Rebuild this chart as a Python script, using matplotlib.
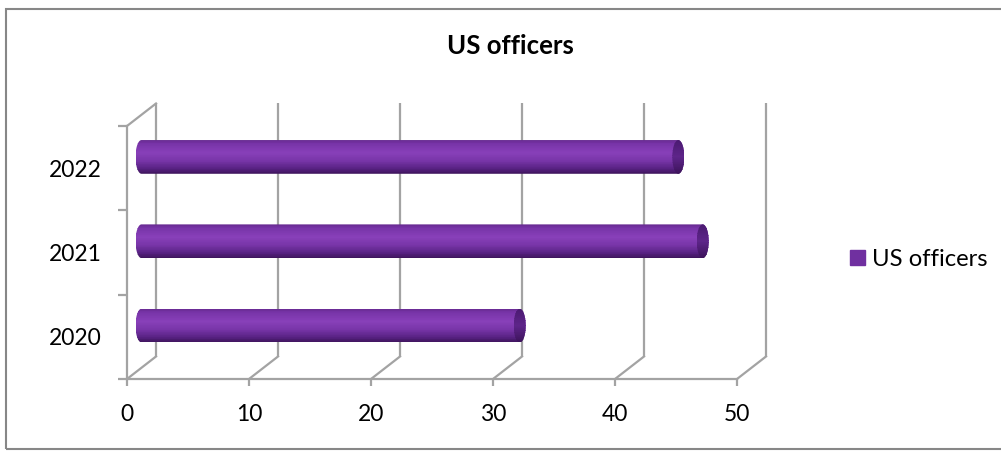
import numpy as np
import matplotlib
matplotlib.use("Agg")
import matplotlib.pyplot as plt
from matplotlib.patches import Rectangle, Ellipse, PathPatch
from matplotlib.path import Path
from matplotlib.lines import Line2D
from matplotlib.colors import LinearSegmentedColormap

# ---------------- data ----------------
categories = ["2020", "2021", "2022"]
values = [31, 46, 44]
x_ticks = [0, 10, 20, 30, 40, 50]
series_name = "US officers"
title = "US officers"

# ---------------- style ----------------
plt.rcParams['font.family'] = ['Lato', 'DejaVu Sans']
GRID = '#a3a3a3'
LW = 1.6
BAR = '#7030a0'
shade = LinearSegmentedColormap.from_list('cyl', [
    (0.00, '#66298f'), (0.12, '#7834a8'), (0.38, '#8840b9'),
    (0.62, '#7835a8'), (0.85, '#582283'), (1.00, '#3e145c')])
face_shade = LinearSegmentedColormap.from_list('face', [
    (0.0, '#4a1a70'), (0.5, '#5e258a'), (1.0, '#3c135a')])

W_PX, H_PX, DPI = 1001, 451, 100
fig = plt.figure(figsize=(W_PX / DPI, H_PX / DPI), dpi=DPI)

# front plane of the 3-D box
ax_l, ax_r, ax_t, ax_b = 127, 737, 126, 379
ax = fig.add_axes([ax_l / W_PX, (H_PX - ax_b) / H_PX,
                   (ax_r - ax_l) / W_PX, (ax_b - ax_t) / H_PX])
xmax = x_ticks[-1]
ax.set_xlim(0, xmax)
ax.set_ylim(-0.5, len(categories) - 0.5)
ax.patch.set_visible(False)

ppu_x = (ax_r - ax_l) / xmax
ppu_y = (ax_b - ax_t) / len(categories)
DX = 29 / ppu_x          # depth offset in data units
DY = 22.5 / ppu_y

for s in ['top', 'right']:
    ax.spines[s].set_visible(False)
for s in ['left', 'bottom']:
    ax.spines[s].set_color(GRID)
    ax.spines[s].set_linewidth(LW)
    ax.spines[s].set_zorder(1)

ax.set_xticks(x_ticks)
ax.set_xticklabels([str(t) for t in x_ticks])
ax.tick_params(axis='x', length=5, width=LW, color=GRID, pad=13,
               labelsize=16.5, labelcolor='black')
ax.set_yticks(np.arange(len(categories) + 1) - 0.5)
ax.set_yticklabels([''] * (len(categories) + 1))
ax.tick_params(axis='y', which='major', length=6.5, width=LW, color=GRID)
ax.set_yticks(np.arange(len(categories)), minor=True)
ax.set_yticklabels(categories, minor=True)
ax.tick_params(axis='y', which='minor', length=0, pad=18.5,
               labelsize=16.5, labelcolor='black')

y0, y1 = -0.5, len(categories) - 0.5
# back wall gridlines and floor diagonals
for t in x_ticks:
    ax.plot([t + DX, t + DX], [y0 + DY, y1 + DY], color=GRID, lw=LW,
            clip_on=False, zorder=1, solid_capstyle='butt')
    ax.plot([t, t + DX], [y0, y0 + DY], color=GRID, lw=LW,
            clip_on=False, zorder=1)
# top-left diagonal of side wall
ax.plot([0, DX], [y1, y1 + DY], color=GRID, lw=LW, clip_on=False, zorder=1)

# cylinders at mid depth
bh = 0.40
a = 6.0 / ppu_x   # cap semi-axis in x
b = bh / 2
n = 48
for i, v in enumerate(values):
    xs = DX / 2
    yc = i + DY / 2
    th1 = np.linspace(np.pi / 2, 3 * np.pi / 2, 60)
    th2 = np.linspace(3 * np.pi / 2, 5 * np.pi / 2, 60)
    px = np.concatenate([xs + a * np.cos(th1), xs + v + a * np.cos(th2)])
    py = np.concatenate([yc + b * np.sin(th1), yc + b * np.sin(th2)])
    verts = np.column_stack([px, py])
    verts = np.vstack([verts, verts[:1]])
    codes = [Path.MOVETO] + [Path.LINETO] * (len(verts) - 2) + [Path.CLOSEPOLY]
    outline = PathPatch(Path(verts, codes), facecolor='none', edgecolor='none')
    ax.add_patch(outline)
    edges = np.linspace(yc + b, yc - b, n + 1)
    for k in range(n):
        r = Rectangle((xs - a, edges[k + 1]), v + 2 * a,
                      edges[k] - edges[k + 1] + 0.002,
                      facecolor=shade((k + 0.5) / n), edgecolor='none',
                      zorder=3)
        ax.add_patch(r)
        r.set_clip_path(outline)
    face = Ellipse((xs + v, yc), 2 * a, bh, facecolor='none',
                   edgecolor='none')
    ax.add_patch(face)
    for k in range(n):
        r = Rectangle((xs + v - a, edges[k + 1]), 2 * a,
                      edges[k] - edges[k + 1] + 0.002,
                      facecolor=face_shade((k + 0.5) / n), edgecolor='none',
                      zorder=4)
        ax.add_patch(r)
        r.set_clip_path(face)

# title
fig.text(510 / W_PX, 1 - 54 / H_PX, title, ha='center', va='baseline',
         fontsize=18.5, fontweight='bold')

# legend
handle = Line2D([], [], marker='s', linestyle='none', markersize=10.8,
                markerfacecolor=BAR, markeredgecolor=BAR)
fig.legend([handle], [series_name], loc='center left',
           bbox_to_anchor=(849 / W_PX, 1 - 259 / H_PX), frameon=False,
           fontsize=17.2, handlelength=0.65, handletextpad=0.3,
           borderpad=0, borderaxespad=0)

# outer chart border
fig.patches.append(Rectangle((5.5 / W_PX, (H_PX - 449) / H_PX),
                             (1010 - 5.5) / W_PX, (449 - 8.5) / H_PX,
                             transform=fig.transFigure, facecolor='none',
                             edgecolor='#878787', lw=1.5))

fig.savefig('out.png', dpi=DPI)
